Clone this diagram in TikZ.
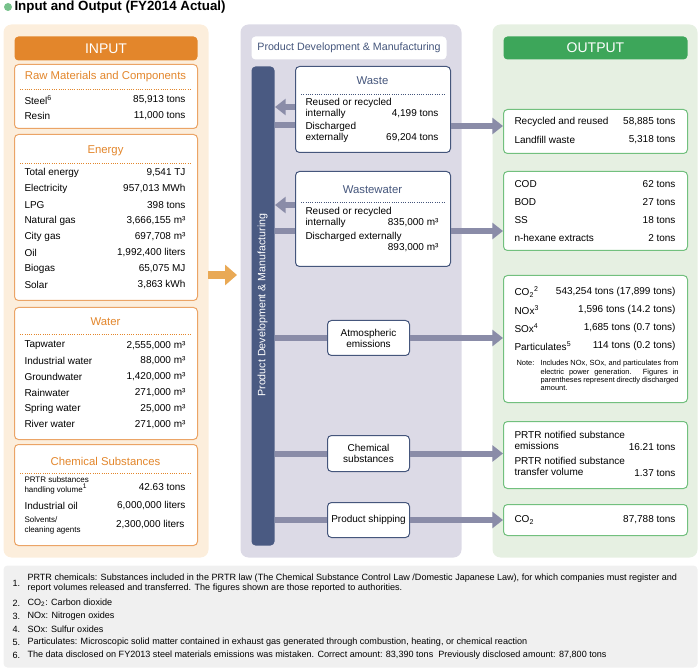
\documentclass[tikz,border=0pt]{standalone}
\usepackage{fontspec}
\setmainfont{Liberation Sans}
\usetikzlibrary{arrows.meta}
\definecolor{inbg}{HTML}{FCEEDC}
\definecolor{inorange}{HTML}{E3862B}
\definecolor{inline}{HTML}{EBA466}
\definecolor{midbg}{HTML}{DCDAE6}
\definecolor{midbar}{HTML}{4A5A82}
\definecolor{midline}{HTML}{45567C}
\definecolor{flow}{HTML}{8A8CA8}
\definecolor{feed}{HTML}{E9A955}
\definecolor{outbg}{HTML}{E6F0E2}
\definecolor{outgreen}{HTML}{3DA65A}
\definecolor{outline}{HTML}{72C07E}
\definecolor{notebg}{HTML}{F0F0F0}
\tikzset{every picture/.style={line width=0.75pt},
  panel/.style={draw=none,rounded corners=6pt,anchor=north west,inner sep=0pt},
  inbox/.style={draw=inline,fill=white,rounded corners=3pt,anchor=north west,inner sep=0pt},
  midbox/.style={draw=midline,fill=white,rounded corners=3pt,anchor=north west,inner sep=0pt},
  outbox/.style={draw=outline,fill=white,rounded corners=3pt,anchor=north west,inner sep=0pt},
  head/.style={rounded corners=3pt,anchor=north west,inner sep=0pt,text=white,font=\fontsize{10.5}{12}\selectfont},
  intitle/.style={text=inorange,font=\fontsize{8.5}{10}\selectfont,inner sep=0pt},
  midtitle/.style={text=midline,font=\fontsize{8.5}{10}\selectfont,inner sep=0pt},
  txt/.style={font=\fontsize{7.5}{8.3}\selectfont,inner sep=0pt,align=left},
  small/.style={font=\fontsize{6}{6.4}\selectfont,inner sep=0pt,align=left},
  dots/.style={densely dotted,line width=0.7pt},
  bar/.style={draw=flow,line width=4.5pt},
  flowarrow/.style={draw=flow,line width=4.5pt,-{Triangle[length=8pt,width=12pt]}},
  note/.style={font=\fontsize{6.8}{8}\selectfont,inner sep=0pt,anchor=west,align=left}}
\begin{document}
\begin{tikzpicture}[x=0.75pt,y=0.75pt,yscale=-1,xscale=1]
\useasboundingbox (0,0) rectangle (700,670);

% title
\node[circle,fill=outgreen!70,inner sep=0pt,minimum size=6pt] (bul) at (8,7) {};
\node[anchor=west,inner sep=0pt,font=\bfseries\fontsize{10}{12}\selectfont] (title) at (14,7) {Input and Output (FY2014 Actual)};

% panels
\node[panel,fill=inbg,minimum width=205*0.75pt,minimum height=533*0.75pt] (inpanel) at (3,24) {};
\node[panel,fill=midbg,minimum width=221*0.75pt,minimum height=533*0.75pt] (midpanel) at (240,24) {};
\node[panel,fill=outbg,minimum width=205*0.75pt,minimum height=533*0.75pt] (outpanel) at (492,24) {};
\node[panel,fill=notebg,rounded corners=3pt,minimum width=694*0.75pt,minimum height=102*0.75pt] (notepanel) at (3,565) {};

% INPUT
\node[head,fill=inorange,minimum width=183*0.75pt,minimum height=24*0.75pt] (inhead) at (14,36) {INPUT};

\node[inbox,minimum width=183*0.75pt,minimum height=64*0.75pt] (raw) at (14,64) {};
\node[intitle] (rawt) at (105.5,77) {Raw Materials and Components};
\draw[dots,inorange] (20,89) -- (191,89);
\node[txt,anchor=west] (steel) at (24,100) {Steel\textsuperscript{6}};
\node[txt,anchor=east] (steelv) at (186,100) {85,913 tons};
\node[txt,anchor=west] (resin) at (24,116) {Resin};
\node[txt,anchor=east] (resinv) at (186,116) {11,000 tons};

\node[inbox,minimum width=183*0.75pt,minimum height=166*0.75pt] (energy) at (14,134) {};
\node[intitle] (energyt) at (105.5,151) {Energy};
\draw[dots,inorange] (20,163) -- (191,163);
\foreach \lab/\val [count=\i] in {{Total energy}/{9,541 TJ},{Electricity}/{957,013 MWh},{LPG}/{398 tons},{Natural gas}/{3,666,155 m³},{City gas}/{697,708 m³},{Oil}/{1,992,400 liters},{Biogas}/{65,075 MJ},{Solar}/{3,863 kWh}}{
  \node[txt,anchor=west] (en\i) at (24,157+16*\i) {\lab};
  \node[txt,anchor=east] (env\i) at (186,157+16*\i) {\val};
}

\node[inbox,minimum width=183*0.75pt,minimum height=132*0.75pt] (water) at (14,307) {};
\node[intitle] (watert) at (105.5,322) {Water};
\draw[dots,inorange] (20,334) -- (191,334);
\foreach \lab/\val [count=\i] in {{Tapwater}/{2,555,000 m³},{Industrial water}/{88,000 m³},{Groundwater}/{1,420,000 m³},{Rainwater}/{271,000 m³},{Spring water}/{25,000 m³},{River water}/{271,000 m³}}{
  \node[txt,anchor=west] (wa\i) at (24,329.5+15.8*\i) {\lab};
  \node[txt,anchor=east] (wav\i) at (186,329.5+15.8*\i) {\val};
}

\node[inbox,minimum width=183*0.75pt,minimum height=101*0.75pt] (chem) at (14,444) {};
\node[intitle] (chemt) at (105.5,461) {Chemical Substances};
\draw[dots,inorange] (20,473) -- (191,473);
\node[small,anchor=west] (prtr) at (24,485) {PRTR substances\\[1pt]handling volume\textsuperscript{1}};
\node[txt,anchor=east] (prtrv) at (186,487) {42.63 tons};
\node[txt,anchor=west] (ioil) at (24,506) {Industrial oil};
\node[txt,anchor=east] (ioilv) at (186,506) {6,000,000 liters};
\node[small,anchor=west] (solv) at (24,525) {Solvents/\\[1pt]cleaning agents};
\node[txt,anchor=east] (solvv) at (185,525) {2,300,000 liters};

% feed arrow
\coordinate (feedA) at (208,275);
\draw[draw=feed,line width=6pt,-{Triangle[length=9pt,width=15pt]}] (feedA) -- (237,275);

% middle
\node[anchor=north west,fill=white,rounded corners=3pt,inner sep=0pt,minimum width=195*0.75pt,minimum height=23*0.75pt,text=midline,font=\fontsize{8}{10}\selectfont] (midhead) at (251,36) {Product Development \& Manufacturing};
\node[anchor=north west,fill=midbar,rounded corners=3pt,inner sep=0pt,minimum width=23*0.75pt,minimum height=479*0.75pt] (pbar) at (251,66) {};
\node[rotate=90,text=white,font=\fontsize{8}{10}\selectfont,inner sep=0pt] (pbart) at (262.5,305) {Product Development \& Manufacturing};

\node[midbox,minimum width=155*0.75pt,minimum height=86*0.75pt] (waste) at (295,66) {};
\node[midtitle] (wastet) at (372.5,81) {Waste};
\draw[dots,midline] (301,94) -- (444,94);
\node[txt,anchor=north west] (wr) at (305,98) {Reused or recycled\\internally};
\node[txt,anchor=east] (wrv) at (439,114) {4,199 tons};
\node[txt,anchor=north west] (wd) at (305,122) {Discharged\\externally};
\node[txt,anchor=east] (wdv) at (439,138) {69,204 tons};

\node[midbox,minimum width=155*0.75pt,minimum height=95*0.75pt] (wwater) at (295,171) {};
\node[midtitle] (wwatert) at (372.5,190) {Wastewater};
\draw[dots,midline] (301,202) -- (444,202);
\node[txt,anchor=north west] (wwr) at (305,207) {Reused or recycled\\internally};
\node[txt,anchor=east] (wwrv) at (439,223) {835,000 m³};
\node[txt,anchor=west] (wwd) at (305,237) {Discharged externally};
\node[txt,anchor=east] (wwdv) at (439,248) {893,000 m³};

\node[midbox,minimum width=82*0.75pt,minimum height=35*0.75pt,txt,align=center] (atmo) at (327,320) {Atmospheric\\emissions};
\node[midbox,minimum width=82*0.75pt,minimum height=36*0.75pt,txt,align=center] (chems) at (327,435) {Chemical\\substances};
\node[midbox,minimum width=82*0.75pt,minimum height=35*0.75pt,txt,align=center] (ship) at (327,502) {Product shipping};

% flows
\draw[flowarrow] (waste.west |- 0,107) -- (pbar.east |- 0,107);
\draw[bar] (pbar.east |- 0,125) -- (waste.west |- 0,125);
\draw[flowarrow] (wwater.west |- 0,205) -- (pbar.east |- 0,205);
\draw[bar] (pbar.east |- 0,231) -- (wwater.west |- 0,231);
\draw[bar] (pbar.east |- atmo.west) -- (atmo.west);
\draw[bar] (pbar.east |- chems.west) -- (chems.west);
\draw[bar] (pbar.east |- ship.west) -- (ship.west);

% OUTPUT
\node[head,fill=outgreen,minimum width=184*0.75pt,minimum height=23*0.75pt] (outhead) at (503,36) {OUTPUT};

\node[outbox,minimum width=184*0.75pt,minimum height=44*0.75pt] (o1) at (503,109) {};
\node[txt,anchor=west] (o1a) at (514,122) {Recycled and reused};
\node[txt,anchor=east] (o1av) at (676,122) {58,885 tons};
\node[txt,anchor=west] (o1b) at (514,140) {Landfill waste};
\node[txt,anchor=east] (o1bv) at (676,140) {5,318 tons};

\node[outbox,minimum width=184*0.75pt,minimum height=79*0.75pt] (o2) at (503,171) {};
\foreach \lab/\val [count=\i] in {{COD}/{62 tons},{BOD}/{27 tons},{SS}/{18 tons},{n-hexane extracts}/{2 tons}}{
  \node[txt,anchor=west] (o2\i) at (514,166+18*\i) {\lab};
  \node[txt,anchor=east] (o2v\i) at (676,166+18*\i) {\val};
}

\node[outbox,minimum width=184*0.75pt,minimum height=127*0.75pt] (o3) at (503,275) {};
\node[txt,anchor=west] (o3a) at (514,292) {CO\textsubscript{2}\textsuperscript{2}};
\node[txt,anchor=east] (o3av) at (676,292) {543,254 tons (17,899 tons)};
\node[txt,anchor=west] (o3b) at (514,310) {NOx\textsuperscript{3}};
\node[txt,anchor=east] (o3bv) at (676,310) {1,596 tons (14.2 tons)};
\node[txt,anchor=west] (o3c) at (514,328) {SOx\textsuperscript{4}};
\node[txt,anchor=east] (o3cv) at (676,328) {1,685 tons (0.7 tons)};
\node[txt,anchor=west] (o3d) at (514,346) {Particulates\textsuperscript{5}};
\node[txt,anchor=east] (o3dv) at (676,346) {114 tons (0.2 tons)};
\node[font=\fontsize{5.6}{6.2}\selectfont,inner sep=0pt,anchor=north west] (o3n) at (516,360) {Note:};
\node[font=\fontsize{5.6}{6.2}\selectfont,inner sep=0pt,anchor=north west,align=justify,text width=138*0.75pt] (o3nt) at (540,360) {Includes NOx, SOx, and particulates from electric power generation. Figures in parentheses represent directly discharged amount.};

\node[outbox,minimum width=184*0.75pt,minimum height=67*0.75pt] (o4) at (503,421) {};
\node[txt,anchor=north west] (o4a) at (514,431) {PRTR notified substance\\emissions};
\node[txt,anchor=east] (o4av) at (676,447) {16.21 tons};
\node[txt,anchor=north west] (o4b) at (514,457) {PRTR notified substance\\transfer volume};
\node[txt,anchor=east] (o4bv) at (676,473) {1.37 tons};

\node[outbox,minimum width=184*0.75pt,minimum height=31*0.75pt] (o5) at (503,504) {};
\node[txt,anchor=west] (o5a) at (514,520) {CO\textsubscript{2}};
\node[txt,anchor=east] (o5av) at (676,520) {87,788 tons};

\draw[flowarrow] (waste.east |- 0,126) -- (o1.west |- 0,126);
\draw[flowarrow] (wwater.east |- 0,231) -- (o2.west |- 0,231);
\draw[flowarrow] (atmo.east) -- (o3.west |- atmo.east);
\draw[flowarrow] (chems.east) -- (o4.west |- chems.east);
\draw[flowarrow] (ship.east) -- (o5.west |- ship.east);

% notes
\foreach \n/\t/\y in {1/{PRTR chemicals: Substances included in the PRTR law (The Chemical Substance Control Law /Domestic Japanese Law), for which companies must register and\\report volumes released and transferred. The figures shown are those reported to authorities.}/583,
  2/{CO\textsubscript{2}: Carbon dioxide}/603,3/{NOx: Nitrogen oxides}/616,4/{SOx: Sulfur oxides}/629,
  5/{Particulates: Microscopic solid matter contained in exhaust gas generated through combustion, heating, or chemical reaction}/642,
  6/{The data disclosed on FY2013 steel materials emissions was mistaken. Correct amount: 83,390 tons\ \ Previously disclosed amount: 87,800 tons}/655}{
  \node[note] (nn\n) at (12,\y) {\n.};
  \node[note] (nt\n) at (27,\y) {\t};
}
\end{tikzpicture}
\end{document}
